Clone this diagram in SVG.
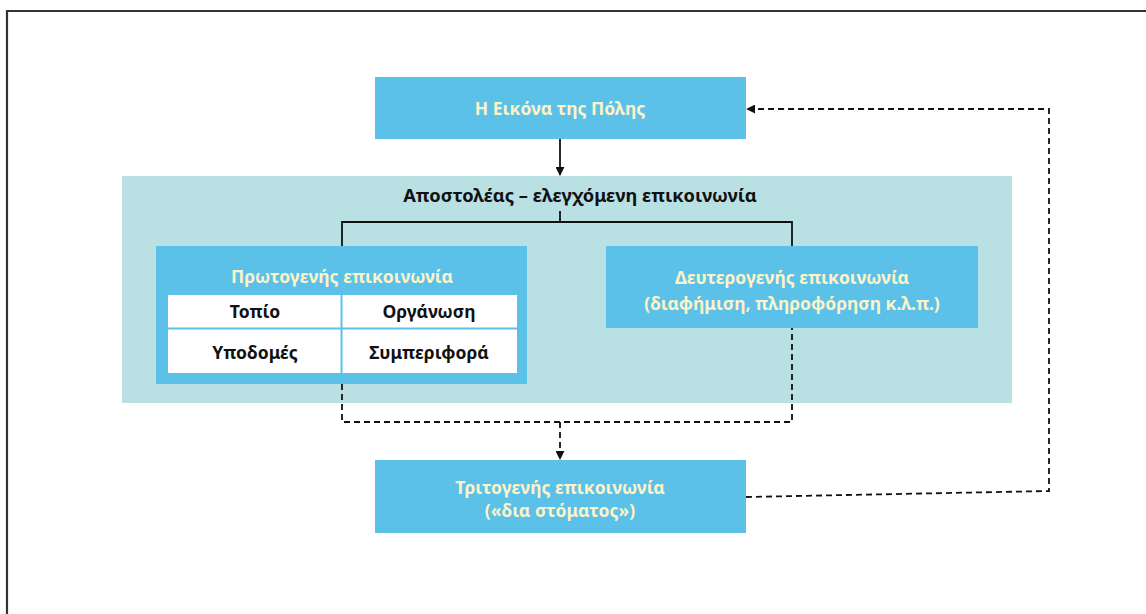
<svg xmlns="http://www.w3.org/2000/svg" width="1146" height="614" viewBox="0 0 1146 614">
<defs>
<style>
.blue{fill:#5bc1e8}
.light{fill:#b9e1e4}
.wt{font-family:"Noto Sans","Open Sans",sans-serif;font-size:17.5px;font-weight:bold;fill:#fcf3c9;text-anchor:middle;dominant-baseline:central}
.bt{font-family:"Noto Sans","Open Sans",sans-serif;font-size:17.5px;font-weight:bold;fill:#111;text-anchor:middle;dominant-baseline:central}
.solid{stroke:#111;stroke-width:1.8;fill:none}
.dash{stroke:#111;stroke-width:1.8;fill:none;stroke-dasharray:6 4}
</style>
<marker id="ah" viewBox="0 0 10 10" refX="9" refY="5" markerWidth="5" markerHeight="5" orient="auto">
<path d="M0,0 L10,5 L0,10 z" fill="#111"/>
</marker>
</defs>
<rect width="1146" height="614" fill="#fff"/>
<path d="M7,614 V11 H1146" stroke="#333" stroke-width="2.2" fill="none"/>

<g id="sender">
<rect class="light" x="122" y="176" width="890" height="227"/>
<text class="bt" x="580" y="194" style="font-size:18.3px">Αποστολέας – ελεγχόμενη επικοινωνία</text>
</g>

<g id="image">
<rect class="blue" x="375" y="77" width="371" height="62"/>
<text class="wt" x="560" y="108">Η Εικόνα της Πόλης</text>
</g>

<g id="primary">
<rect class="blue" x="156" y="246" width="371" height="138"/>
<text class="wt" x="342" y="276">Πρωτογενής επικοινωνία</text>
<rect x="168" y="295" width="349" height="78" fill="#fff"/>
<path d="M168,328.5 H517 M341.5,295 V373" stroke="#5bc1e8" stroke-width="2"/>
<text class="bt" x="255" y="311">Τοπίο</text>
<text class="bt" x="429" y="311">Οργάνωση</text>
<text class="bt" x="255" y="352">Υποδομές</text>
<text class="bt" x="429" y="352">Συμπεριφορά</text>
</g>

<g id="secondary">
<rect class="blue" x="606" y="246" width="372" height="82"/>
<text class="wt" x="792" y="277">Δευτερογενής επικοινωνία</text>
<text class="wt" x="792" y="303">(διαφήμιση, πληροφόρηση κ.λ.π.)</text>
</g>

<g id="tertiary">
<rect class="blue" x="375" y="460" width="371" height="73"/>
<text class="wt" x="560" y="487">Τριτογενής επικοινωνία</text>
<text class="wt" x="560" y="510">(«δια στόματος»)</text>
</g>

<g id="connectors">
<path class="solid" d="M560,139 V175" marker-end="url(#ah)"/>
<path class="solid" d="M560,211 V222 M342,246 V222 H792 V246"/>
<path class="dash" d="M342,384 V422 H792 V328"/>
<path class="dash" d="M560,422 V459" marker-end="url(#ah)"/>
<path class="dash" d="M746,497 L1049,491 V109 H747" marker-end="url(#ah)"/>
</g>
</svg>
